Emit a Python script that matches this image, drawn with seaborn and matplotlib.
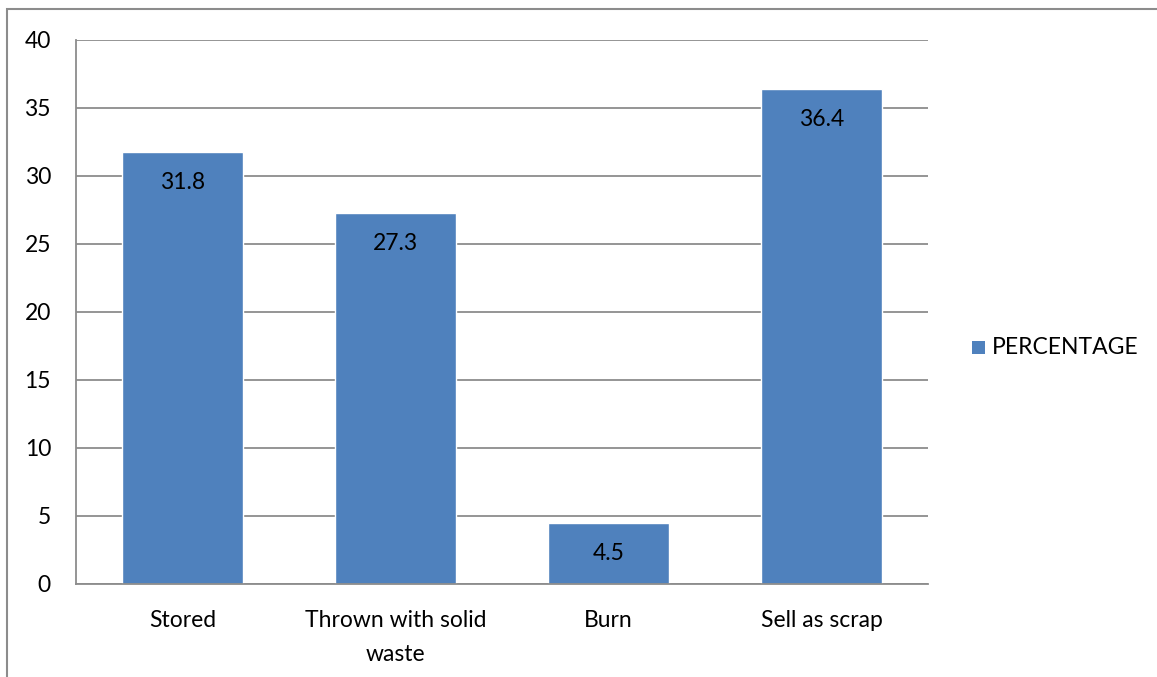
import matplotlib
matplotlib.use("Agg")
import matplotlib.pyplot as plt
import seaborn as sns
import pandas as pd
from matplotlib.patches import Rectangle

categories = ["Stored", "Thrown with solid\nwaste", "Burn", "Sell as scrap"]
percentage = [31.8, 27.3, 4.5, 36.4]
y_ticks = [0, 5, 10, 15, 20, 25, 30, 35, 40]
series_name = "PERCENTAGE"

bar_color = "#4F81BD"
grid_color = "#8C8C8C"
font_size = 16.5

sns.set_theme(style="white")
plt.rcParams["font.family"] = ["Lato", "DejaVu Sans"]

df = pd.DataFrame({"category": categories, "value": percentage})

fig = plt.figure(figsize=(11.57, 6.77), dpi=100)
ax = fig.add_axes([76 / 1157, 1 - 584 / 677, (928 - 76) / 1157, (584 - 40) / 677])

sns.barplot(data=df, x="category", y="value", color=bar_color, saturation=1,
            width=0.57, ax=ax, label=series_name, legend=False)

ax.set_ylim(0, 40)
ax.set_yticks(y_ticks)
ax.set_xlim(-0.5, len(categories) - 0.5)
ax.yaxis.grid(True, color=grid_color, linewidth=1.3)
ax.set_axisbelow(True)
for side in ["top", "right"]:
    ax.spines[side].set_visible(False)
for side in ["left", "bottom"]:
    ax.spines[side].set_color(grid_color)
    ax.spines[side].set_linewidth(1.3)
ax.set_xlabel("")
ax.set_ylabel("")
ax.tick_params(axis="y", length=0, pad=18, labelsize=font_size, colors="black")
ax.tick_params(axis="x", length=0, pad=19, labelsize=font_size, colors="black")
for lbl in ax.get_xticklabels():
    lbl.set_linespacing(1.75)

for i, v in enumerate(percentage):
    ax.annotate(f"{v}", xy=(i, v), xytext=(0, -22), textcoords="offset points",
                ha="center", va="center", fontsize=font_size, color="black")

# legend entry on the right
fig.patches.append(Rectangle((972 / 1157, 1 - 354 / 677), 13 / 1157, 13 / 677,
                             transform=fig.transFigure, facecolor=bar_color,
                             edgecolor="none"))
fig.text(992 / 1157, 1 - 347 / 677, series_name, ha="left", va="center",
         fontsize=font_size, color="black")

# chart-area border
fig.patches.append(Rectangle((7 / 1157, -0.05), 1.2, 1 - 9 / 677 + 0.05,
                             transform=fig.transFigure, facecolor="none",
                             edgecolor="#8C8C8C", linewidth=1.5))

fig.savefig("out.png", dpi=100)
